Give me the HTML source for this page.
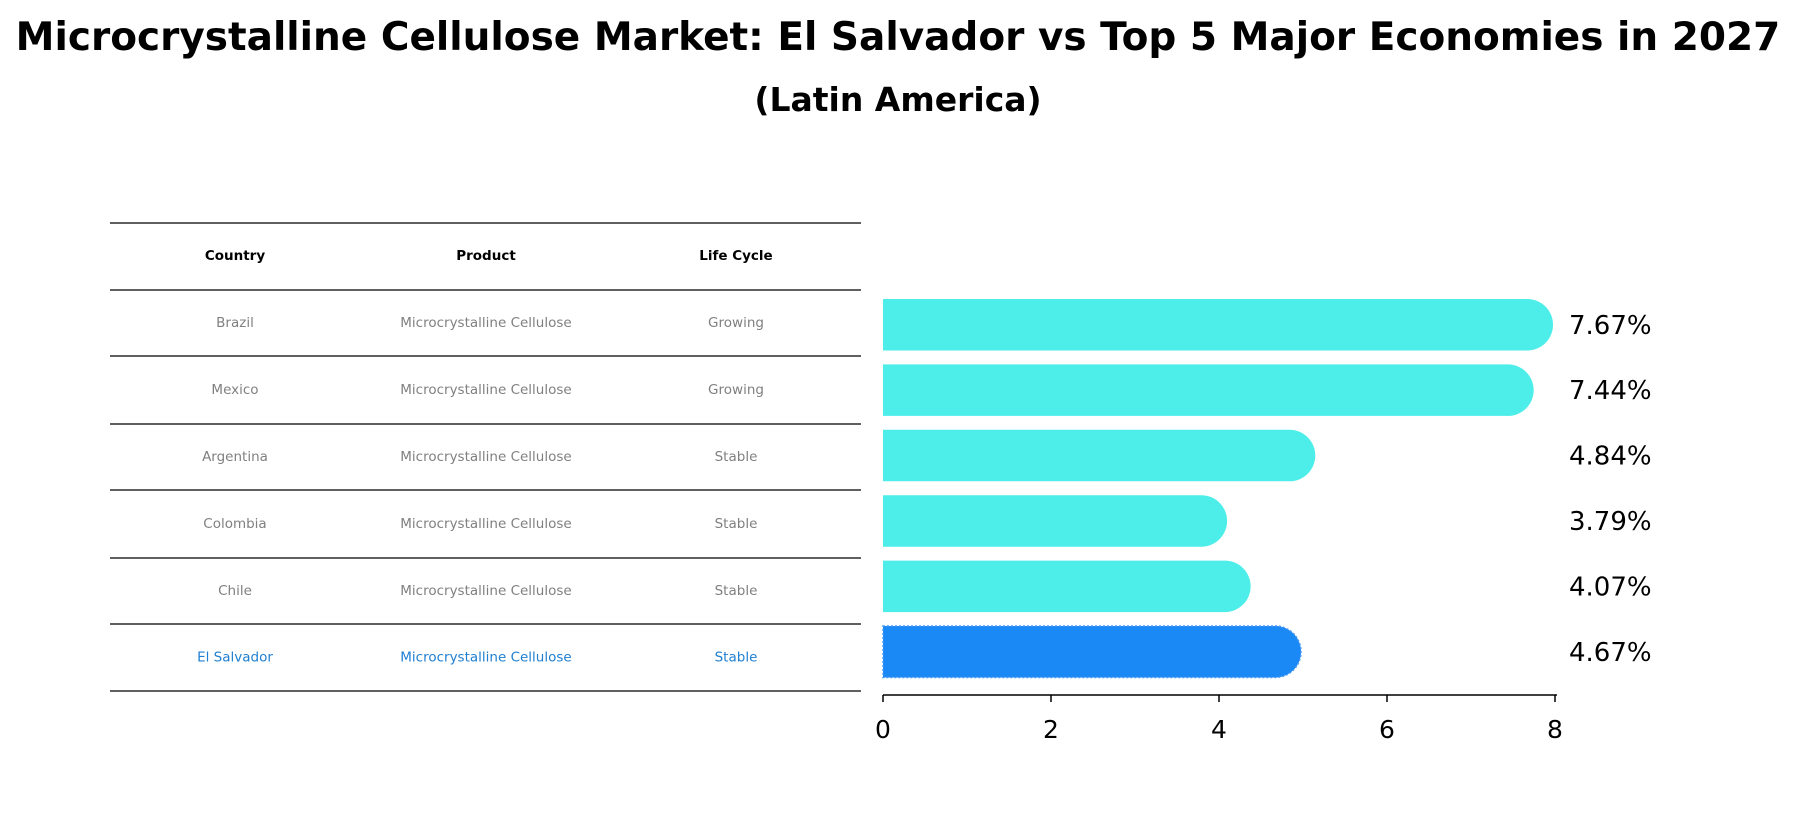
<!DOCTYPE html>
<html><head><meta charset="utf-8">
<style>
html,body{margin:0;padding:0;background:#fff;}
svg{display:block;font-family:"DejaVu Sans","Liberation Sans",sans-serif;}
</style></head>
<body>
<svg id="chart" width="1796" height="823" viewBox="0 0 1796 823" xmlns="http://www.w3.org/2000/svg">
<text x="898" y="50" text-anchor="middle" font-size="39" font-weight="bold">Microcrystalline Cellulose Market: El Salvador vs Top 5 Major Economies in 2027</text>
<text x="898" y="111" text-anchor="middle" font-size="33" font-weight="bold">(Latin America)</text>
<g id="table"></g>
<g id="bars"></g>
</svg>
<script>
const countries = ["Brazil","Mexico","Argentina","Colombia","Chile","El Salvador"];
const products = ["Microcrystalline Cellulose","Microcrystalline Cellulose","Microcrystalline Cellulose","Microcrystalline Cellulose","Microcrystalline Cellulose","Microcrystalline Cellulose"];
const lifeCycles = ["Growing","Growing","Stable","Stable","Stable","Stable"];
const values = [7.67,7.44,4.84,3.79,4.07,4.67];
const valueLabels = ["7.67%","7.44%","4.84%","3.79%","4.07%","4.67%"];
const xTicks = [0,2,4,6,8];
const headers = ["Country","Product","Life Cycle"];

const NS = "http://www.w3.org/2000/svg";
function mk(tag, attrs, parent){const e=document.createElementNS(NS,tag);for(const k in attrs)e.setAttribute(k,attrs[k]);parent.appendChild(e);return e;}

const x0 = 883, x1 = 1555, xMax = 8;
const xScale = v => x0 + v/xMax*(x1-x0);
const rowTop = 299, rowStep = 65.4, barH = 51.5;
const yCenter = i => rowTop + barH/2 + i*rowStep;

const bars = document.getElementById('bars');
values.forEach((v,i)=>{
  const yc = yCenter(i), r = barH/2, xe = xScale(v);
  const hl = i === values.length-1;
  const p = mk('path',{d:`M${x0},${yc-r} L${xe},${yc-r} A${r},${r} 0 0 1 ${xe},${yc+r} L${x0},${yc+r} Z`,fill:hl?'#1a88f5':'#4deeea'},bars);
  if(hl){p.setAttribute('stroke','#4a9af5');p.setAttribute('stroke-dasharray','2,2');p.setAttribute('stroke-width','1.5');}
  
  
  const t = mk('text',{x:1569,y:yc+9,'font-size':26},bars);
  t.textContent = valueLabels[i];
  
  
});
const axis = mk('line',{x1:x0,x2:x1+2,y1:695,y2:695,stroke:'#000','stroke-width':1.5},bars);


xTicks.forEach(t=>{
  const x = xScale(t);
  const tk = mk('line',{x1:x,x2:x,y1:695,y2:702,stroke:'#000','stroke-width':1.5},bars);
  
  
  const lb = mk('text',{x:x,y:738,'text-anchor':'middle','font-size':25},bars);
  lb.textContent = t;
  
  
});

const table = document.getElementById('table');
const lineYs = [223,290,356,424,490,558,624,691];
lineYs.forEach(y=>{
  const l = mk('line',{x1:110,x2:861,y1:y,y2:y,stroke:'#000','stroke-width':1.2},table);
  
  
});
const colX = [235,486,736];
headers.forEach((h,j)=>{
  const t = mk('text',{x:colX[j],y:260,'text-anchor':'middle','font-size':13.5,'font-weight':'bold'},table);
  t.textContent = h;
  
  
});
countries.forEach((c,i)=>{
  const y = (lineYs[i+1]+lineYs[i+2])/2 + 4;
  const col = i===countries.length-1 ? '#1f7fd0' : '#808080';
  [c, products[i], lifeCycles[i]].forEach((txt,j)=>{
    const t = mk('text',{x:colX[j],y:y,'text-anchor':'middle','font-size':13.5,fill:col},table);
    t.textContent = txt;
    
    
  });
});
</script>
</body></html>
